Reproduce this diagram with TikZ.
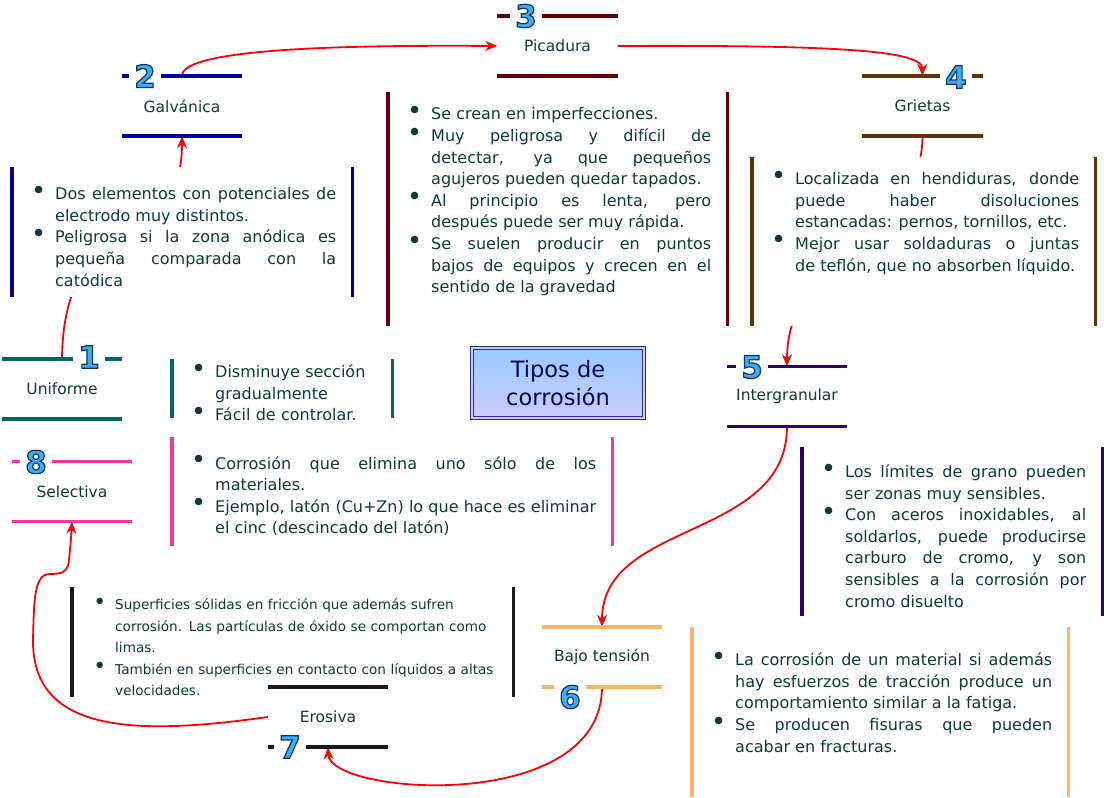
\documentclass[tikz,border=0pt]{standalone}
\usepackage{fontspec}
\setmainfont{DejaVu Sans}
\usepackage{enumitem}
\usepackage{tikz}
\usetikzlibrary{arrows.meta, positioning}
\setlist[itemize]{label=\raisebox{0.05ex}[0.9ex][0pt]{\scalebox{1.6}{\textbullet}}, leftmargin=27pt, labelsep=9pt, itemsep=0pt, parsep=0pt, topsep=0pt, partopsep=0pt}

\definecolor{txt}{HTML}{0D3B3B}
\definecolor{cGalv}{HTML}{000099}
\definecolor{cPica}{HTML}{660000}
\definecolor{cGriet}{HTML}{663300}
\definecolor{cUnif}{HTML}{006666}
\definecolor{cInter}{HTML}{330066}
\definecolor{cSele}{HTML}{FF3399}
\definecolor{cBajo}{HTML}{FFB366}
\definecolor{cEro}{HTML}{1A1A1A}
\definecolor{numblue}{HTML}{3BB0EA}
\definecolor{tBorder}{HTML}{2A2AA0}
\definecolor{tTop}{HTML}{99CCFF}
\definecolor{tBot}{HTML}{CCCCFF}
\definecolor{tText}{HTML}{000066}

% outlined digits
\newcommand\outnum[1]{\special{pdf:literal 2 Tr 1.2 w 0.05 0.2 0.45 RG}#1\special{pdf:literal 0 Tr}}

\tikzstyle{kind} = [minimum width=120pt, minimum height=60pt, inner sep=0pt, text=txt, font=\fontsize{15.5}{17}\selectfont]
\tikzstyle{infobox} = [fill=white, inner xsep=16pt, inner ysep=0pt, anchor=north west, align=justify, text=txt, font=\fontsize{16}{21.6}\selectfont]
\tikzstyle{bar} = [draw, line width=3.5pt]
\tikzstyle{num} = [fill=white, inner xsep=5pt, inner ysep=2pt, text=numblue, font=\fontsize{31}{31}\selectfont\bfseries]
\tikzstyle{link} = [draw, red, line width=1.8pt, -{Stealth[length=12pt, width=10pt]}]
\tikzstyle{tipos} = [draw=tBorder, double=tBot, line width=1.5pt, double distance=1.2pt, top color=tTop, bottom color=tBot, minimum width=172pt, minimum height=70pt, align=center, text=tText, font=\fontsize{22.5}{28}\selectfont]

\begin{document}
\begin{tikzpicture}[x=1pt, y=-1pt]
			\useasboundingbox (0,0) rectangle (1104,798);

			\node [kind] (galv) at (182,106) {Galvánica};
			\node [kind] (pica) at (557.5,46) {Picadura};
			\node [kind] (griet) at (922.5,106) {Grietas};
			\node [kind] (unif) at (62,389) {Uniforme};
			\node [kind] (inter) at (787,396.5) {Intergranular};
			\node [kind] (bajo) at (602,657) {Bajo tensión};
			\node [kind] (ero) at (328,717) {Erosiva};
			\node [kind] (sele) at (72,491.5) {Selectiva};
			\node [tipos] (tit) at (558,383) {Tipos de\\corrosión};

			\path [link] (unif.north) .. controls (64,200) and (182,260) .. (galv.south);
			\path [link] (galv.north) .. controls (182,48) and (350,45) .. (pica.west);
			\path [link] (pica.east) .. controls (830,45) and (922,50) .. (griet.north);
			\path [link] (griet.south) .. controls (922,240) and (787,250) .. (inter.north);
			\path [link] (inter.south) .. controls (787,540) and (602,520) .. (bajo.north);
			\path [link] (bajo.south) .. controls (602,815) and (330,795) .. (ero.south);
			\path [link] (ero.west) .. controls (140,735) and (32,735) .. (33,640) .. controls (34,600) and (34,574) .. (50,574) .. controls (62,574) and (68,572) .. (69,560) .. controls (70,550) and (71,540) .. (sele.south);

			\node [infobox, text width=308pt, minimum height=130pt] (galvtxt) at (12,167) {\begin{itemize}
				\item Dos elementos con potenciales de\linebreak electrodo muy distintos.
				\item Peligrosa si la zona anódica es\linebreak pequeña comparada con la\linebreak catódica
			\end{itemize}};
			\node [infobox, text width=307pt, minimum height=234pt] (picatxt) at (388,92) {\begin{itemize}
				\item Se crean en imperfecciones.
				\item Muy peligrosa y difícil de\linebreak detectar, ya que pequeños\linebreak agujeros pueden quedar tapados.
				\item Al principio es lenta, pero\linebreak después puede ser muy rápida.
				\item Se suelen producir en puntos\linebreak bajos de equipos y crecen en el\linebreak sentido de la gravedad
			\end{itemize}\par\vspace{24pt}};
			\node [infobox, text width=311pt, minimum height=169pt] (grietxt) at (752,157) {\begin{itemize}
				\item Localizada en hendiduras, donde\linebreak puede haber disoluciones\linebreak estancadas: pernos, tornillos, etc.
				\item Mejor usar soldaduras o juntas\linebreak de teflón, que no absorben líquido.
			\end{itemize}\par\vspace{46pt}};
			\node [infobox, text width=188pt, minimum height=59pt, inner ysep=-3.5pt, align=left] (uniftxt) at (172,359) {\begin{itemize}
				\item Disminuye sección\newline gradualmente
				\item Fácil de controlar.
			\end{itemize}};
			\node [infobox, text width=408pt, minimum height=109pt] (seletxt) at (172,437) {\begin{itemize}
				\item Corrosión que elimina uno sólo de los\linebreak materiales.
				\item Ejemplo, latón (Cu+Zn) lo que hace es eliminar\linebreak el cinc (descincado del latón)
			\end{itemize}};
			\node [infobox, text width=268pt, minimum height=169pt] (intertxt) at (802,447) {\begin{itemize}
				\item Los límites de grano pueden\linebreak ser zonas muy sensibles.
				\item Con aceros inoxidables, al\linebreak soldarlos, puede producirse\linebreak carburo de cromo, y son\linebreak sensibles a la corrosión por\linebreak cromo disuelto
			\end{itemize}};
			\node [infobox, text width=344pt, minimum height=170pt] (bajotxt) at (692,627) {\begin{itemize}
				\item La corrosión de un material si además\linebreak hay esfuerzos de tracción produce un\linebreak comportamiento similar a la fatiga.
				\item Se producen fisuras que pueden\linebreak acabar en fracturas.
			\end{itemize}\par\vspace{28pt}};
			\node [infobox, text width=409pt, minimum height=110pt, align=left, font=\fontsize{13.6}{21.5}\selectfont] (erotxt) at (72,587) {\begin{itemize}
				\item Superficies sólidas en fricción que además sufren\newline corrosión. Las partículas de óxido se comportan como\newline limas.
				\item También en superficies en contacto con líquidos a altas\newline velocidades.
			\end{itemize}};

			\path [bar, cGalv] (galv.north west) -- (galv.north east);
			\path [bar, cGalv] (galv.south west) -- (galv.south east);
			\path [bar, cPica] (pica.north west) -- (pica.north east);
			\path [bar, cPica] (pica.south west) -- (pica.south east);
			\path [bar, cGriet] (griet.north west) -- (griet.north east);
			\path [bar, cGriet] (griet.south west) -- (griet.south east);
			\path [bar, cUnif] (unif.north west) -- (unif.north east);
			\path [bar, cUnif] (unif.south west) -- (unif.south east);
			\path [bar, cInter] (inter.north west) -- (inter.north east);
			\path [bar, cInter] (inter.south west) -- (inter.south east);
			\path [bar, cBajo] (bajo.north west) -- (bajo.north east);
			\path [bar, cBajo] (bajo.south west) -- (bajo.south east);
			\path [bar, cEro] (ero.north west) -- (ero.north east);
			\path [bar, cEro] (ero.south west) -- (ero.south east);
			\path [bar, cSele] (sele.north west) -- (sele.north east);
			\path [bar, cSele] (sele.south west) -- (sele.south east);

			\path [bar, cGalv] (galvtxt.north west) -- (galvtxt.south west);
			\path [bar, cGalv] (galvtxt.north east) -- (galvtxt.south east);
			\path [bar, cPica] (picatxt.north west) -- (picatxt.south west);
			\path [bar, cPica] (picatxt.north east) -- (picatxt.south east);
			\path [bar, cGriet] (grietxt.north west) -- (grietxt.south west);
			\path [bar, cGriet] (grietxt.north east) -- (grietxt.south east);
			\path [bar, cUnif] (uniftxt.north west) -- (uniftxt.south west);
			\path [bar, cUnif] (uniftxt.north east) -- (uniftxt.south east);
			\path [bar, cSele] (seletxt.north west) -- (seletxt.south west);
			\path [bar, cSele] (seletxt.north east) -- (seletxt.south east);
			\path [bar, cInter] (intertxt.north west) -- (intertxt.south west);
			\path [bar, cInter] (intertxt.north east) -- (intertxt.south east);
			\path [bar, cBajo] (bajotxt.north west) -- (bajotxt.south west);
			\path [bar, cBajo] (bajotxt.north east) -- (bajotxt.south east);
			\path [bar, cEro] (erotxt.north west) -- (erotxt.south west);
			\path [bar, cEro] (erotxt.north east) -- (erotxt.south east);

			\node [num] (n1) at (89,357) {\outnum{1}};
			\node [num] (n2) at (145,76) {\outnum{2}};
			\node [num] (n3) at (526,16) {\outnum{3}};
			\node [num] (n4) at (956,77) {\outnum{4}};
			\node [num] (n5) at (752,367) {\outnum{5}};
			\node [num] (n6) at (570,697) {\outnum{6}};
			\node [num] (n7) at (290,747) {\outnum{7}};
			\node [num] (n8) at (36,462) {\outnum{8}};
		\end{tikzpicture}
\end{document}
